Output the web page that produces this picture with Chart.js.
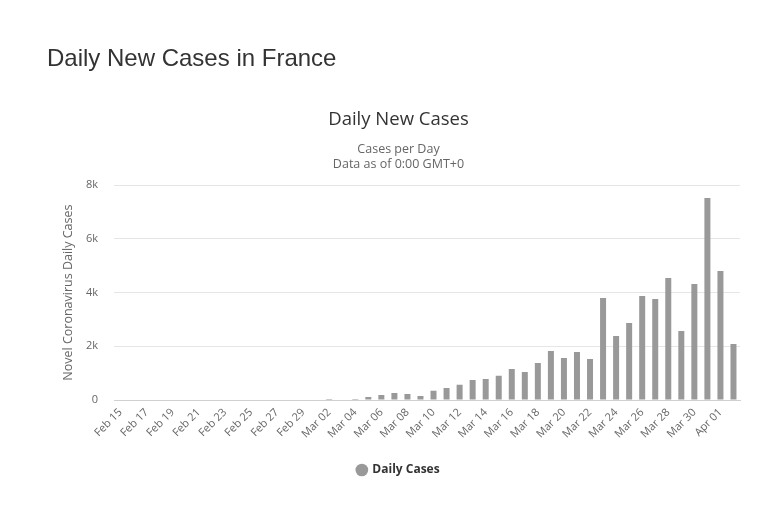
<!DOCTYPE html>
<html>
<head>
<meta charset="utf-8">
<script src="https://cdn.jsdelivr.net/npm/chart.js@4"></script>
<style>
  body { margin: 0; background: #fff; }
  #wrap { position: relative; width: 757px; height: 511px; }
  #pageTitle {
    position: absolute; left: 47px; top: 46px;
    font: 24px/24px "Liberation Sans", Arial, sans-serif; color: #333;
    z-index: 2;
  }
  #myChart { position: absolute; left: 0; top: 0; }
</style>
</head>
<body>
<div id="wrap">
  <div id="pageTitle">Daily New Cases in France</div>
  <canvas id="myChart" width="757" height="511"></canvas>
</div>
<script>
const dates = [
  'Feb 15','Feb 16','Feb 17','Feb 18','Feb 19','Feb 20','Feb 21','Feb 22','Feb 23','Feb 24',
  'Feb 25','Feb 26','Feb 27','Feb 28','Feb 29',
  'Mar 01','Mar 02','Mar 03','Mar 04','Mar 05','Mar 06','Mar 07','Mar 08','Mar 09','Mar 10',
  'Mar 11','Mar 12','Mar 13','Mar 14','Mar 15','Mar 16','Mar 17','Mar 18','Mar 19','Mar 20',
  'Mar 21','Mar 22','Mar 23','Mar 24','Mar 25','Mar 26','Mar 27','Mar 28','Mar 29','Mar 30',
  'Mar 31','Apr 01','Apr 02'
];
const dailyCases = [
  0,0,0,0,0,0,0,0,0,0,
  0,0,0,0,0,
  0,40,0,35,110,185,260,220,150,340,
  450,570,745,785,905,1155,1045,1380,1825,1565,
  1790,1530,3800,2385,2865,3870,3760,4540,2570,4320,
  7520,4800,2085
];
const yTicks = [0, 2000, 4000, 6000, 8000];

const font = '"Open Sans", sans-serif';

const data = {
  labels: dates,
  datasets: [{
    label: 'Daily Cases',
    data: dailyCases,
    backgroundColor: '#999999',
    borderColor: '#999999',
    borderWidth: 0,
    barPercentage: 0.46,
    categoryPercentage: 1.0
  }]
};

const config = {
  type: 'bar',
  data: data,
  options: {
    responsive: false,
    animation: false,
    layout: { padding: { left: 57, right: 17, top: 109, bottom: 25 } },
    plugins: {
      title: {
        display: true,
        text: 'Daily New Cases',
        color: '#333',
        font: { family: font, size: 18.5, weight: 'normal' },
        padding: { top: 0, bottom: 11 }
      },
      subtitle: {
        display: true,
        text: ['Cases per Day', 'Data as of 0:00 GMT+0'],
        color: '#666',
        font: { family: font, size: 12.5, weight: 'normal', lineHeight: 1.2 },
        padding: { top: 0, bottom: 13 }
      },
      legend: {
        position: 'bottom',
        labels: {
          usePointStyle: true,
          pointStyle: 'circle',
          boxWidth: 9,
          boxHeight: 9,
          color: '#333',
          font: { family: font, size: 12, weight: 'bold' },
          padding: 12
        }
      },
      tooltip: { enabled: false }
    },
    scales: {
      x: {
        afterFit: function(scale) { scale.height = 52; },
        grid: { display: false, drawTicks: false },
        border: { display: true, color: '#d0d0d0' },
        ticks: {
          autoSkip: false,
          maxRotation: 45,
          minRotation: 45,
          padding: 6,
          color: '#666',
          font: { family: font, size: 11 },
          callback: function(value, index) {
            return index % 2 === 0 ? dates[index] : '';
          }
        }
      },
      y: {
        min: 0,
        max: 8000,
        afterFit: function(scale) { scale.width = 57; },
        afterBuildTicks: function(scale) {
          scale.ticks = yTicks.map(v => ({ value: v }));
        },
        grid: { color: '#e6e6e6', drawTicks: false },
        border: { display: false },
        ticks: {
          padding: 16,
          color: '#666',
          font: { family: font, size: 11 },
          callback: function(value) {
            return value === 0 ? '0' : (value / 1000) + 'k';
          }
        },
        title: {
          display: true,
          text: 'Novel Coronavirus Daily Cases',
          color: '#666',
          font: { family: font, size: 12.5 },
          padding: { top: 4, bottom: 0 }
        }
      }
    }
  }
};

const myChart = new Chart(document.getElementById('myChart'), config);
</script>
</body>
</html>
